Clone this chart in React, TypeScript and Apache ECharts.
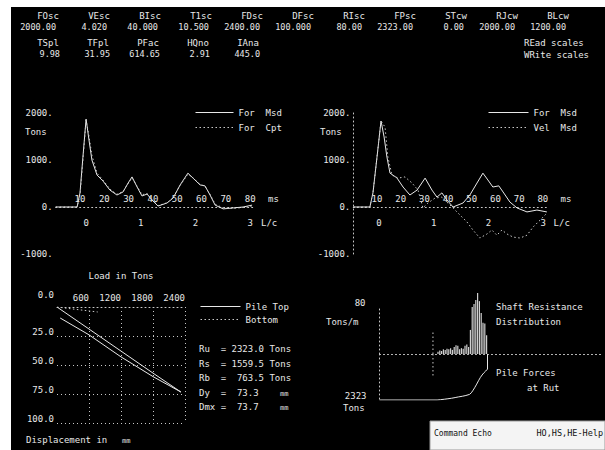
import React, { useEffect, useRef } from "react";
import * as echarts from "echarts";

const FONT = '"DejaVu Sans Mono", monospace';
const FG = "#e8e8e8";
const DIM = "#c8c8c8";

// ---------- header parameters ----------
const headerRow1Labels = ["FOsc", "VEsc", "BIsc", "T1sc", "FDsc", "DFsc", "RIsc", "FPsc", "STcw", "RJcw", "BLcw"];
const headerRow1Values = ["2000.00", "4.020", "40.000", "10.500", "2400.00", "100.000", "80.00", "2323.00", "0.00", "2000.00", "1200.00"];
const headerRow2Labels = ["TSpl", "TFpl", "PFac", "HQno", "IAna"];
const headerRow2Values = ["9.98", "31.95", "614.65", "2.91", "445.0"];
const menuItems = ["REad scales", "WRite scales"];

// ---------- top-left: force measured vs computed ----------
const msTicks = [10, 20, 30, 40, 50, 60, 70, 80];
const lcTicks = [0, 1, 2, 3];
const forceTicksLabel = (v: number) => `${v}.`;
const leftTime = [0, 8.8, 10.0, 11.2, 12.5, 13.7, 14.9, 17.0, 19.5, 22.3, 25.2, 27.7, 29.8, 31.4, 33.5, 35.5, 37.6, 39.6, 42.1, 45.8, 48.3, 51.2, 54.4, 56.5, 59.4, 61.4, 63.5, 65.6, 68.9, 73.0, 77.1, 80.8];
const leftForceMsd = [0, 0, 300, 1060, 1870, 1425, 1000, 680, 550, 360, 255, 320, 510, 640, 425, 235, 275, 150, 20, 85, 190, 470, 720, 615, 470, 450, 255, 40, -40, -20, 0, 40];
const leftForceCpt = [0, 0, 250, 1000, 1850, 1500, 1100, 720, 570, 380, 270, 330, 500, 620, 440, 260, 290, 160, 30, 90, 200, 460, 700, 620, 480, 440, 270, 60, -20, -30, -10, 20];

// ---------- top-right: force vs velocity measured ----------
const rightTimeF = [0, 7.0, 8.3, 10.0, 11.7, 13.0, 14.2, 15.5, 18.4, 21.0, 23.9, 26.9, 30.3, 33.2, 35.3, 37.4, 39.5, 42.1, 46.3, 49.2, 52.2, 54.7, 56.8, 58.9, 61.4, 63.2, 66.1, 69.1, 73.3, 77.5, 81.7];
const rightForceMsd = [0, 0, 300, 1060, 1830, 1490, 1060, 720, 620, 425, 255, 360, 615, 360, 210, 300, 150, 0, 85, 255, 510, 720, 575, 425, 450, 320, 105, -20, -105, -65, -105];
const rightTimeV = [0, 7.0, 8.3, 10.0, 11.7, 13.4, 14.6, 16.3, 18.9, 21.8, 24.8, 27.3, 29.4, 31.5, 34.5, 37.4, 39.5, 42.1, 45.0, 48.0, 50.5, 53.4, 56.4, 58.5, 60.6, 62.7, 64.9, 67.4, 70.4, 73.3, 75.9, 78.8, 81.7];
const rightVelMsd = [0, 0, 300, 1060, 1830, 1700, 1060, 680, 615, 640, 510, 360, -20, 85, 190, 210, 105, -20, -170, -320, -490, -660, -575, -490, -600, -490, -575, -640, -660, -600, -425, -280, -130];

// ---------- bottom-left: simulated load test ----------
const topLoad = [0, 600, 1200, 1800, 2323, 2323, 1800, 1200, 600, 60];
const topDisp = [0, 19, 38, 57, 73.3, 73.7, 60, 43, 24, 9.5];
const bottomLoad = [0, 400, 763.5];
const bottomDisp = [0, 2.3, 4.3];
const resultLines = ["Ru  = 2323.0 Tons", "Rs  = 1559.5 Tons", "Rb  =  763.5 Tons", "Dy  =  73.3", "Dmx =  73.7"];
const resultUnits = ["", "", "", "mm", "mm"];

// ---------- bottom-right: shaft resistance distribution / pile forces ----------
const firstResistSeg = 32;
const shaftResistance = [4, 6, 5, 8, 7, 9, 8, 10, 7, 12, 15, 14, 8, 10, 9, 14, 16, 12, 41, 80, 85, 92, 104, 90, 70, 53, 52, 32];
const pileForcePos = [0, 32, 34, 36, 38, 40, 42, 44, 46, 48, 50, 51, 52, 53, 54, 55, 56, 57, 58, 59, 60, 60];
const pileForce = [2323, 2323, 2305, 2285, 2260, 2235, 2200, 2165, 2135, 2095, 2040, 1960, 1830, 1680, 1520, 1350, 1190, 1060, 950, 860, 763.5, 0];
const markerPos = [29.7, 29.7];
const markerResist = [0, 37];
const markerForce = [0, 1161];

const zip = (xs: number[], ys: number[]) => xs.map((x, i) => [x, ys[i]]);

const DOT_AXIS = [1, 3];
const DOT_LINE = [1.5, 2.5];

function T(text: string, x: number, y: number, align = "left", size = 9, color = FG) {
  return {
    type: "text",
    x,
    y,
    silent: true,
    style: {
      text,
      fill: color,
      fontSize: size,
      fontFamily: FONT,
      align,
      textAlign: align,
      verticalAlign: "middle",
      textVerticalAlign: "middle",
    },
  };
}

function buildOption(): any {
  const dotted = { color: DIM, type: DOT_AXIS, width: 1 };
  const lbl = { color: FG, fontSize: 9, fontFamily: FONT };

  const graphic: any[] = [
    { type: "rect", silent: true, shape: { x: 0, y: 0, width: 605, height: 7 }, style: { fill: "#ffffff" } },
    { type: "rect", silent: true, shape: { x: 0, y: 0, width: 11, height: 450 }, style: { fill: "#ffffff" } },
  ];
  headerRow1Labels.forEach((t, i) => graphic.push(T(t, 48 + 51 * i, 16, "center")));
  headerRow1Values.forEach((t, i) => graphic.push(T(t, 56 + 51 * i, 27, "right", 8.5)));
  headerRow2Labels.forEach((t, i) => graphic.push(T(t, 48 + 50 * i, 43, "center")));
  headerRow2Values.forEach((t, i) => graphic.push(T(t, 60 + 50 * i, 54, "right", 8.5)));
  menuItems.forEach((t, i) => graphic.push(T(t, 524, 43 + 12 * i)));
  graphic.push(T("Tons", 25, 132), T("Tons", 320, 132));
  resultLines.forEach((t, i) => graphic.push(T(t, 199, 349 + 14.5 * i)));
  resultUnits.forEach((t, i) => t && graphic.push(T(t, 280, 350 + 14.5 * i, "left", 7)));
  graphic.push(T("Displacement in", 26, 440), T("mm", 122, 441, "left", 7));
  graphic.push(T("Tons/m", 326, 322), T("Tons", 343, 408));
  graphic.push(T("Shaft Resistance", 496, 307), T("Distribution", 496, 322));
  graphic.push(T("Pile Forces", 496, 373), T("at Rut", 527, 388));
  graphic.push({
    type: "rect",
    silent: true,
    shape: { x: 430, y: 421, width: 175, height: 29 },
    style: { fill: "#f4f4f4", stroke: "#9a9a9a", lineWidth: 1 },
  });
  graphic.push(T("Command Echo", 434, 433, "left", 8, "#111"), T("HO,HS,HE-Help", 603, 433, "right", 8.5, "#111"));

  // ms axis sits on the zero line (grid top 113, zero at 207)
  const waveX = (grid: number) => ({
    type: "value",
    gridIndex: grid,
    position: "top",
    offset: -94,
    min: 0,
    max: 82,
    axisLine: { show: true, onZero: false, lineStyle: dotted },
    axisTick: { show: false },
    splitLine: { show: false },
    axisLabel: { ...lbl, margin: 4, customValues: msTicks },
    name: "ms",
    nameLocation: "end",
    nameGap: 13,
    nameTextStyle: { ...lbl, verticalAlign: "bottom", padding: [0, 0, 4, 0] },
  });
  // L/c axis also on the zero line (grid bottom 254)
  const lcX = (grid: number, min: number, max: number) => ({
    type: "value",
    gridIndex: grid,
    position: "bottom",
    offset: -47,
    min,
    max,
    axisLine: { show: false, onZero: false },
    axisTick: { show: false },
    splitLine: { show: false },
    axisLabel: { ...lbl, margin: 11, customValues: lcTicks },
    name: "L/c",
    nameLocation: "end",
    nameGap: 6,
    nameTextStyle: { ...lbl, verticalAlign: "top", padding: [11, 0, 0, 0] },
  });
  const waveY = (grid: number, showLine: boolean) => ({
    type: "value",
    gridIndex: grid,
    min: -1000,
    max: 2000,
    interval: 1000,
    axisLine: { show: showLine, lineStyle: dotted },
    axisTick: { show: false },
    splitLine: { show: false },
    axisLabel: { ...lbl, margin: 3, formatter: forceTicksLabel },
  });

  const lineS = (name: string, x: number, y: number, data: any[], dottedLine = false) => ({
    name,
    type: "line",
    xAxisIndex: x,
    yAxisIndex: y,
    data,
    symbol: "none",
    showSymbol: false,
    silent: true,
    lineStyle: { color: dottedLine ? DIM : FG, width: 1, type: dottedLine ? DOT_LINE : "solid" },
    itemStyle: { color: dottedLine ? DIM : FG },
  });

  const legendBase = {
    orient: "vertical",
    itemHeight: 10,
    selectedMode: false,
    textStyle: lbl,
    padding: 0,
    itemStyle: { opacity: 0 },
  };
  const solidItem = (name: string) => ({ name, lineStyle: { width: 1, type: "solid", color: FG } });
  const dottedItem = (name: string) => ({ name, lineStyle: { width: 1, type: DOT_LINE, color: DIM } });

  return {
    animation: false,
    backgroundColor: "#000000",
    textStyle: { fontFamily: FONT },
    graphic,
    grid: [
      { left: 55.7, top: 113, width: 199.3, height: 141 },
      { left: 353.3, top: 113, width: 194.3, height: 141 },
      { left: 57, top: 307, width: 128, height: 116 },
      { left: 379.5, top: 307, width: 222.5, height: 47 },
      { left: 379.5, top: 354, width: 222.5, height: 46 },
    ],
    xAxis: [
      waveX(0),
      lcX(0, -0.556, 3.089),
      waveX(1),
      lcX(1, -0.468, 3.082),
      {
        type: "value",
        gridIndex: 2,
        position: "top",
        min: 0,
        max: 2400,
        interval: 600,
        axisLine: { show: true, onZero: false, lineStyle: dotted },
        axisTick: { show: false },
        splitLine: { show: true, showMinLine: false, lineStyle: dotted },
        axisLabel: { ...lbl, align: "right", margin: 5, formatter: (v: number) => (v === 0 ? "" : String(v)) },
        name: "Load in Tons",
        nameLocation: "middle",
        nameGap: 27,
        nameTextStyle: lbl,
      },
      {
        type: "value",
        gridIndex: 3,
        position: "bottom",
        min: 0,
        max: 123.6,
        axisLine: { show: true, onZero: false, lineStyle: dotted },
        axisTick: { show: false },
        axisLabel: { show: false },
        splitLine: { show: false },
      },
      { type: "value", gridIndex: 4, min: 0, max: 123.6, show: false },
    ],
    yAxis: [
      waveY(0, false),
      waveY(1, true),
      {
        type: "value",
        gridIndex: 2,
        inverse: true,
        min: 0,
        max: 100,
        interval: 25,
        axisLine: { show: false },
        axisTick: { show: false },
        splitLine: { show: true, lineStyle: dotted },
        axisLabel: {
          ...lbl,
          margin: 3,
          verticalAlign: "bottom",
          formatter: (v: number) => (v === 0 ? "{z|0.0}" : v.toFixed(1)),
          rich: { z: { ...lbl, padding: [0, 0, 8, 0] } },
        },
      },
      {
        type: "value",
        gridIndex: 3,
        min: 0,
        max: 80,
        axisLine: { show: true, lineStyle: dotted },
        axisTick: { show: false },
        splitLine: { show: false },
        axisLabel: { ...lbl, margin: 14, verticalAlign: "bottom", customValues: [80], formatter: (v: number) => String(v) },
      },
      {
        type: "value",
        gridIndex: 4,
        inverse: true,
        min: 0,
        max: 2323,
        axisLine: { show: true, lineStyle: dotted },
        axisTick: { show: false },
        splitLine: { show: false },
        axisLabel: { ...lbl, margin: 13, verticalAlign: "bottom", customValues: [2323], formatter: (v: number) => String(v) },
      },
    ],
    legend: [
      { ...legendBase, data: [solidItem("For  Msd"), dottedItem("For  Cpt")], left: 195, top: 108, itemWidth: 38, itemGap: 6 },
      { ...legendBase, data: [solidItem("For  Msd"), dottedItem("Vel  Msd")], left: 488, top: 108, itemWidth: 40, itemGap: 6 },
      { ...legendBase, data: [solidItem("Pile Top"), dottedItem("Bottom")], left: 200, top: 302, itemWidth: 40, itemGap: 4 },
    ],
    series: [
      lineS("For  Msd", 0, 0, zip(leftTime, leftForceMsd)),
      lineS("For  Cpt", 0, 0, zip(leftTime, leftForceCpt), true),
      lineS("For  Msd", 2, 1, zip(rightTimeF, rightForceMsd)),
      lineS("Vel  Msd", 2, 1, zip(rightTimeV, rightVelMsd), true),
      lineS("Pile Top", 4, 2, zip(topLoad, topDisp)),
      lineS("Bottom", 4, 2, zip(bottomLoad, bottomDisp), true),
      {
        name: "Shaft Resistance",
        type: "bar",
        xAxisIndex: 5,
        yAxisIndex: 3,
        clip: false,
        silent: true,
        barWidth: 1.2,
        itemStyle: { color: "#d0d0d0" },
        data: shaftResistance.map((v, i) => [firstResistSeg + i + 0.5, v]),
      },
      lineS("marker-r", 5, 3, zip(markerPos, markerResist), true),
      lineS("Pile Forces", 6, 4, zip(pileForcePos, pileForce)),
      lineS("marker-f", 6, 4, zip(markerPos, markerForce), true),
    ],
  };
}

export default function App() {
  const ref = useRef<HTMLDivElement>(null);
  useEffect(() => {
    if (!ref.current) return;
    const chart = echarts.init(ref.current, null, { renderer: "svg" });
    chart.setOption(buildOption());
    return () => chart.dispose();
  }, []);
  return <div ref={ref} style={{ position: "absolute", left: 0, top: 0, width: 605, height: 450 }} />;
}
